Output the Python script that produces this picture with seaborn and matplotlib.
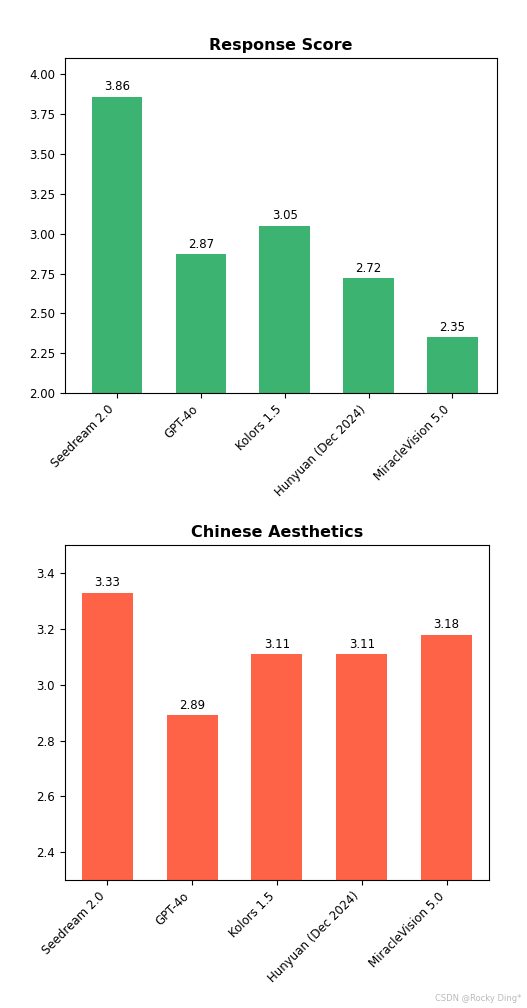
import matplotlib
matplotlib.use('Agg')
import matplotlib.pyplot as plt
import seaborn as sns
import pandas as pd

models = ['Seedream 2.0', 'GPT-4o', 'Kolors 1.5', 'Hunyuan (Dec 2024)', 'MiracleVision 5.0']
response_score = [3.86, 2.87, 3.05, 2.72, 2.35]
chinese_aesthetics = [3.33, 2.89, 3.11, 3.11, 3.18]

fig = plt.figure(figsize=(5.27, 10.08), dpi=100)
ax1 = fig.add_axes([0.123, 0.610, 0.820, 0.332])
ax2 = fig.add_axes([0.123, 0.127, 0.805, 0.332])

panels = [
    (ax1, response_score, 'Response Score', '#3CB371', (2.0, 4.1), (-0.62, 4.53)),
    (ax2, chinese_aesthetics, 'Chinese Aesthetics', '#FF6347', (2.3, 3.5), (-0.5, 4.5)),
]

for ax, vals, title, color, ylim, xlim in panels:
    df = pd.DataFrame({'model': models, 'score': vals})
    sns.barplot(data=df, x='model', y='score', color=color, width=0.6, ax=ax, saturation=1)
    ax.set_ylim(*ylim)
    ax.set_xlim(*xlim)
    ax.set_title(title, fontsize=11.5, fontweight='bold')
    ax.set_xlabel('')
    ax.set_ylabel('')
    ax.set_xticks(range(len(models)))
    ax.set_xticklabels(models, rotation=45, ha='right', fontsize=8.5)
    ax.tick_params(axis='y', labelsize=8.5)
    for i, v in enumerate(vals):
        ax.text(i, v + (ylim[1] - ylim[0]) * 0.01, f'{v:.2f}', ha='center', va='bottom', fontsize=8.5)

fig.text(0.99, 0.005, 'CSDN @Rocky Ding*', ha='right', va='bottom', fontsize=6, color='#bbbbbb')
fig.savefig('out.png', dpi=100)
